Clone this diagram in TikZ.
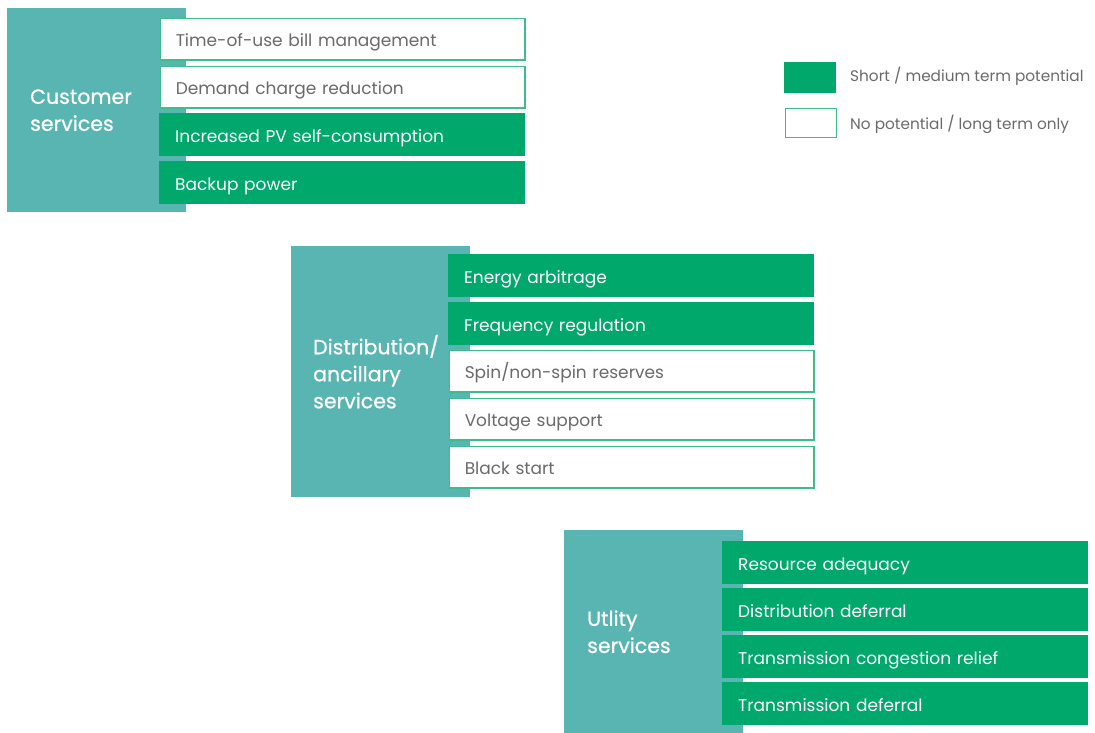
\documentclass[tikz,border=0pt]{standalone}
\usepackage{fontspec}
\setmainfont{Poppins}
\newfontfamily\labfont{Poppins}[FakeBold=0.8]
\definecolor{teal1}{HTML}{58B5B2}
\definecolor{green1}{HTML}{00A96B}
\definecolor{green2}{HTML}{3DBC8C}
\definecolor{gray1}{HTML}{6A6A6A}
\begin{document}
\begin{tikzpicture}[x=1pt,y=-1pt,
  tealbox/.style={anchor=north west, fill=teal1, draw=none, inner sep=0pt, minimum width=179pt},
  tlabel/.style={anchor=west, text=white, align=left, inner sep=0pt, font=\labfont\fontsize{20.5}{27}\selectfont},
  cell/.style={anchor=north west, inner ysep=0pt, align=left, text height=15pt, text depth=0pt, font=\fontsize{17}{20}\selectfont},
  yes/.style={cell, text width=334pt, inner xsep=16pt, minimum height=43pt, fill=green1, draw=none, text=white},
  no/.style={cell, text width=334pt, inner xsep=15.25pt, minimum height=41.5pt, fill=white, draw=green2, line width=1.5pt, text=gray1},
  legtxt/.style={anchor=west, text=gray1, inner sep=0pt, font=\fontsize{15.3}{18}\selectfont}]
\useasboundingbox (0,0) rectangle (1095,733);
% Customer services
\node[tealbox, minimum height=204pt] (t1) at (7,8) {};
\node[tlabel] (l1) at ([xshift=23pt]t1.west) {Customer\\services};
\node[no]  (c1) at (159.75,17.75)  {Time-of-use bill management};
\node[no]  (c2) at (159.75,65.75)  {Demand charge reduction};
\node[yes] (c3) at (159,113) {Increased PV self-consumption};
\node[yes] (c4) at (159,161) {Backup power};
% Distribution
\node[tealbox, minimum height=251pt] (t2) at (291,246) {};
\node[tlabel] (l2) at ([xshift=22pt]t2.west) {Distribution/\\ancillary\\services};
\node[yes] (d1) at (448,254) {Energy arbitrage};
\node[yes] (d2) at (448,302) {Frequency regulation};
\node[no]  (d3) at (448.75,349.75) {Spin/non-spin reserves};
\node[no]  (d4) at (448.75,397.75) {Voltage support};
\node[no]  (d5) at (448.75,445.75) {Black start};
% Utility
\node[tealbox, minimum height=203pt] (t3) at (564,530) {};
\node[tlabel] (l3) at ([xshift=23pt]t3.west) {Utlity\\services};
\node[yes] (u1) at (722,541) {Resource adequacy};
\node[yes] (u2) at (722,588) {Distribution deferral};
\node[yes] (u3) at (722,635) {Transmission congestion relief};
\node[yes] (u4) at (722,682) {Transmission deferral};
% Legend
\node[anchor=north west, fill=green1, inner sep=0pt, minimum width=52pt, minimum height=31pt] (g1) at (784,62) {};
\node[anchor=north west, fill=white, draw=green2, line width=1.2pt, inner sep=0pt, minimum width=51pt, minimum height=29pt] (g2) at (784.6,107.6) {};
\node[legtxt] (gt1) at (850,76) {Short / medium term potential};
\node[legtxt] (gt2) at (850,124) {No potential / long term only};
\end{tikzpicture}
\end{document}
